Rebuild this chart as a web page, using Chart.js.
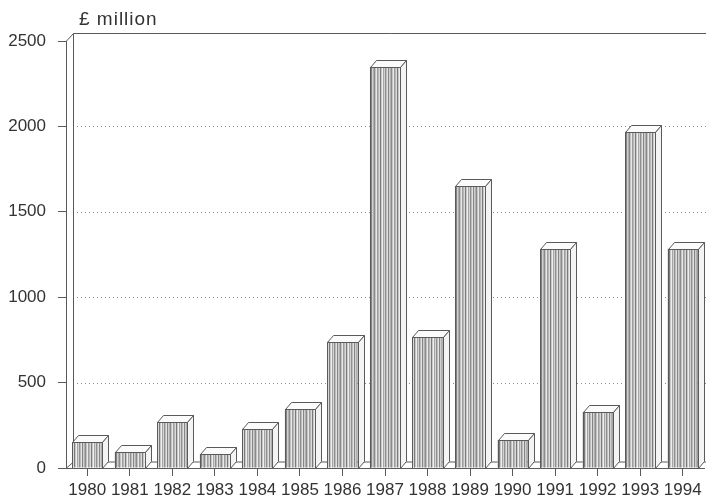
<!DOCTYPE html>
<html>
<head>
<meta charset="utf-8">
<style>
  html, body { margin: 0; padding: 0; background: #ffffff; }
  #wrap { width: 706px; height: 501px; position: relative; }
</style>
<script src="https://cdn.jsdelivr.net/npm/chart.js@4/dist/chart.umd.min.js"></script>
</head>
<body>
<div id="wrap"><canvas id="chart"></canvas></div>
<script>
// Annual values, £ million
const years = ['1980', '1981', '1982', '1983', '1984', '1985', '1986', '1987',
               '1988', '1989', '1990', '1991', '1992', '1993', '1994'];
const values = [150, 95, 270, 80, 230, 345, 740, 2350, 765, 1650, 165, 1285, 330, 1970, 1285];
const yTicks = [0, 500, 1000, 1500, 2000, 2500];
const unitLabel = '£ million';

// Vertical hatching for the bar fronts
const stripeShades = ['#8a8a8a', '#c4c4c4', '#e8e8e8', '#9c9c9c', '#b8b8b8', '#dadada',
                      '#7a7a7a', '#c9c9c9', '#eeeeee', '#a6a6a6', '#d2d2d2', '#909090',
                      '#bdbdbd', '#e2e2e2', '#858585', '#cfcfcf', '#b0b0b0'];
function makeStripes() {
  const c = document.createElement('canvas');
  c.width = stripeShades.length;
  c.height = 4;
  const g = c.getContext('2d');
  stripeShades.forEach((s, i) => { g.fillStyle = s; g.fillRect(i, 0, 1, 4); });
  return g.createPattern(c, 'repeat');
}

const WALL_DX = 7, WALL_DY = 8;   // depth of back wall / floor
const BAR_DX = 6, BAR_DY = 7;     // depth of each block
const LINE = '#5a5a5a';
const TEXT = '#333333';
const FONT = '"Liberation Sans", Arial, sans-serif';

const depthPlugin = {
  id: 'depth3d',
  beforeDatasetsDraw(chart) {
    const { ctx, chartArea: a, scales } = chart;
    const y = scales.y;
    ctx.save();
    // dotted grid on the back wall
    ctx.strokeStyle = '#8a8a8a';
    ctx.lineWidth = 1;
    ctx.setLineDash([1, 3]);
    yTicks.forEach(v => {
      if (v === 0 || v === yTicks[yTicks.length - 1]) return;
      const py = Math.round(y.getPixelForValue(v)) + 0.5;
      ctx.beginPath();
      ctx.moveTo(a.left + WALL_DX, py);
      ctx.lineTo(a.right + 4, py);
      ctx.stroke();
    });
    ctx.setLineDash([]);
    ctx.strokeStyle = LINE;
    const top = y.getPixelForValue(yTicks[yTicks.length - 1]);
    const bot = y.getPixelForValue(0);
    // back wall edge, top edge and rear floor edge
    ctx.beginPath();
    ctx.moveTo(a.left + 0.5, top);
    ctx.lineTo(a.left + WALL_DX + 0.5, top - WALL_DY + 0.5);
    ctx.lineTo(a.right + 4, top - WALL_DY + 0.5);
    ctx.moveTo(a.left + WALL_DX + 0.5, top - WALL_DY + 0.5);
    ctx.lineTo(a.left + WALL_DX + 0.5, bot - WALL_DY + 2);
    ctx.moveTo(a.left + 0.5, bot);
    ctx.lineTo(a.left + WALL_DX + 0.5, bot - WALL_DY + 2);
    ctx.lineTo(a.right + 4, bot - WALL_DY + 2);
    ctx.stroke();
    ctx.restore();
  },
  afterDatasetsDraw(chart) {
    const { ctx } = chart;
    const meta = chart.getDatasetMeta(0);
    ctx.save();
    ctx.strokeStyle = LINE;
    ctx.lineWidth = 1;
    meta.data.forEach(bar => {
      const p = bar.getProps(['x', 'y', 'base', 'width'], true);
      const x0 = Math.round(p.x - p.width / 2) + 0.5;
      const x1 = Math.round(p.x + p.width / 2) + 0.5;
      const yt = Math.round(p.y) + 0.5;
      const yb = Math.round(p.base) + 0.5;
      // top face
      ctx.fillStyle = '#fbfbfb';
      ctx.beginPath();
      ctx.moveTo(x0, yt);
      ctx.lineTo(x0 + BAR_DX, yt - BAR_DY);
      ctx.lineTo(x1 + BAR_DX, yt - BAR_DY);
      ctx.lineTo(x1, yt);
      ctx.closePath();
      ctx.fill();
      ctx.stroke();
      // side face
      ctx.fillStyle = '#f4f4f4';
      ctx.beginPath();
      ctx.moveTo(x1, yt);
      ctx.lineTo(x1 + BAR_DX, yt - BAR_DY);
      ctx.lineTo(x1 + BAR_DX, yb - BAR_DY);
      ctx.lineTo(x1, yb);
      ctx.closePath();
      ctx.fill();
      ctx.stroke();
      // front outline
      ctx.strokeRect(x0, yt, x1 - x0, yb - yt);
    });
    ctx.restore();
  },
  afterDraw(chart) {
    const { ctx, chartArea: a } = chart;
    ctx.save();
    ctx.fillStyle = TEXT;
    ctx.font = '19px ' + FONT;
    if ('letterSpacing' in ctx) ctx.letterSpacing = '1px';
    ctx.textBaseline = 'middle';
    ctx.textAlign = 'left';
    ctx.fillText(unitLabel, a.left + 13, a.top - 21);
    ctx.restore();
  }
};

const ctx = document.getElementById('chart').getContext('2d');
new Chart(ctx, {
  type: 'bar',
  data: {
    labels: years,
    datasets: [{
      data: values,
      backgroundColor: makeStripes(),
      borderWidth: 0,
      categoryPercentage: 1,
      barPercentage: 0.71
    }]
  },
  options: {
    responsive: true,
    maintainAspectRatio: false,
    animation: false,
    devicePixelRatio: 1,
    layout: { padding: { top: 41, right: 2, left: 0, bottom: 0 } },
    plugins: { legend: { display: false }, tooltip: { enabled: false }, title: { display: false } },
    scales: {
      x: {
        offset: true,
        afterFit(scale) { scale.height = 33; },
        grid: {
          offset: false,
          drawOnChartArea: false,
          drawTicks: true,
          tickLength: 8,
          tickColor: LINE
        },
        border: { display: true, color: LINE, width: 1 },
        ticks: {
          color: TEXT,
          font: { family: FONT, size: 17 },
          padding: 4,
          maxRotation: 0,
          autoSkip: false
        }
      },
      y: {
        min: 0,
        max: 2500,
        afterBuildTicks(scale) { scale.ticks = yTicks.map(v => ({ value: v })); },
        afterFit(scale) { scale.width = 66; },
        grid: {
          drawOnChartArea: false,
          drawTicks: true,
          tickLength: 8,
          tickColor: LINE
        },
        border: { display: true, color: LINE, width: 1 },
        ticks: {
          color: TEXT,
          font: { family: FONT, size: 17 },
          padding: 12,
          callback: v => String(v)
        }
      }
    }
  },
  plugins: [depthPlugin]
});
</script>
</body>
</html>
